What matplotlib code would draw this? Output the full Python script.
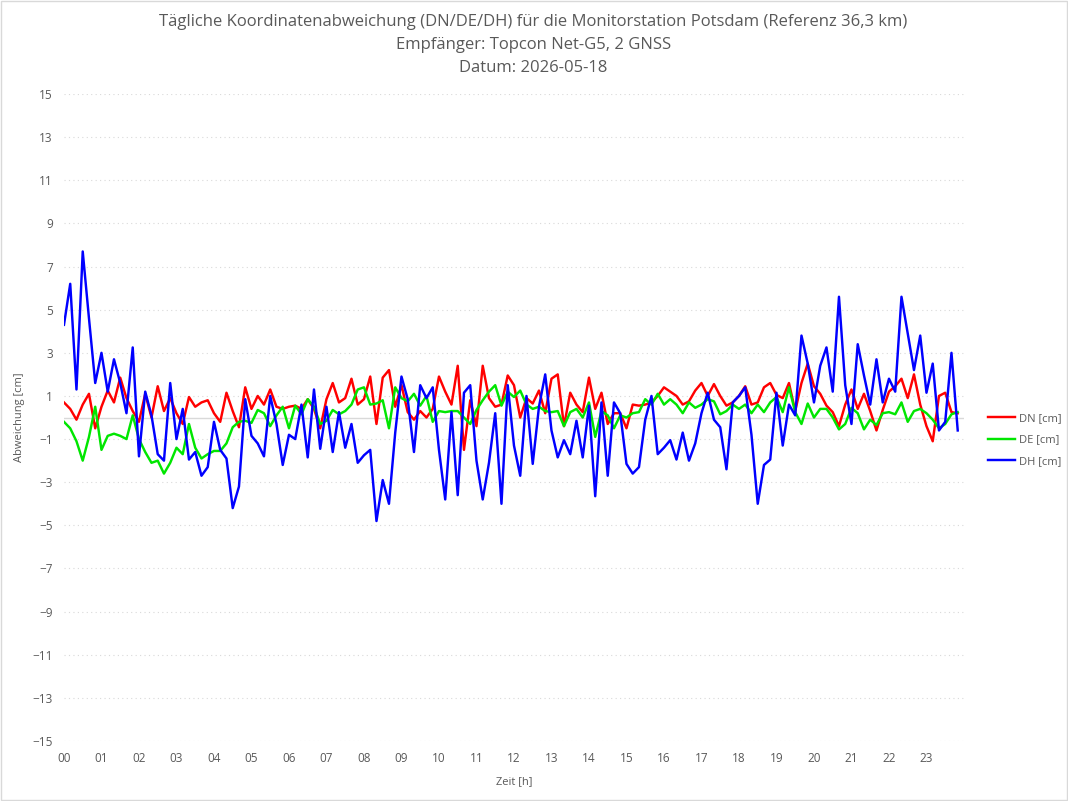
import numpy as np
import matplotlib.pyplot as plt
from matplotlib.patches import Rectangle

plt.rcParams['font.family'] = ['Open Sans', 'DejaVu Sans']

# Abweichungen in cm, alle 10 Minuten (00:00 .. 23:50)
dn = [0.7, 0.4, -0.1, 0.6, 1.1, -0.5, 0.5, 1.25, 0.7, 1.85, 0.9, 0.3, -0.2, 1.1, 0.0, 1.45, 0.3, 0.9,
      0.2, -0.3, 0.95, 0.5, 0.7, 0.8, 0.2, -0.2, 1.15, 0.3, -0.45, 1.4, 0.4, 1.0, 0.6, 1.3, 0.5, 0.4,
      0.5, 0.55, 0.4, 0.85, 0.4, -0.5, 0.85, 1.6, 0.7, 0.9, 1.8, 0.6, 0.85, 1.9, -0.3, 1.85, 2.2, 0.5,
      1.5, 0.25, -0.1, 0.3, 0.0, 0.4, 1.9, 1.2, 0.6, 2.4, -1.5, 0.8, -0.4, 2.4, 0.9, 0.5, 0.6, 1.95,
      1.5, 0.0, 0.9, 0.65, 1.25, 0.2, 1.8, 2.0, -0.4, 1.15, 0.6, 0.25, 1.85, 0.4, 1.15, -0.3, 0.2, 0.2,
      -0.5, 0.6, 0.55, 0.6, 0.7, 1.0, 1.4, 1.2, 1.0, 0.6, 0.75, 1.25, 1.6, 1.0, 1.55, 1.0, 0.55, 0.7,
      1.0, 1.45, 0.6, 0.7, 1.4, 1.6, 1.05, 0.9, 1.6, 0.3, 1.6, 2.5, 1.45, 1.1, 0.55, 0.25, -0.4, 0.6,
      1.3, 0.4, 1.1, 0.3, -0.6, 0.35, 1.2, 1.45, 1.8, 0.9, 2.0, 0.6, -0.4, -1.1, 1.0, 1.15, 0.25, 0.2]

de = [-0.2, -0.5, -1.1, -2.0, -0.9, 0.5, -1.5, -0.85, -0.75, -0.85, -1.0, 0.1, -1.0, -1.6, -2.1, -2.0, -2.6, -2.1,
      -1.4, -1.7, -0.3, -1.4, -1.9, -1.7, -1.55, -1.55, -1.2, -0.45, -0.2, -0.15, -0.25, 0.35, 0.2, -0.4, 0.1, 0.5,
      -0.5, 0.55, 0.15, 0.85, 0.5, -0.3, -0.15, 0.35, 0.15, 0.3, 0.6, 1.3, 1.4, 0.6, 0.65, 0.8, -0.5, 1.4,
      0.9, 0.75, 1.1, 0.55, 1.0, -0.2, 0.3, 0.25, 0.3, 0.3, 0.0, -0.3, 0.35, 0.8, 1.2, 1.5, 0.55, 1.2,
      0.95, 1.25, 0.6, 0.4, 0.5, 0.3, 0.25, 0.3, -0.4, 0.25, 0.4, 0.0, 0.7, -0.9, 0.3, 0.1, -0.5, 0.1,
      0.0, 0.2, 0.25, 0.85, 0.6, 1.1, 0.6, 0.85, 0.6, 0.2, 0.7, 0.45, 0.6, 0.85, 0.75, 0.15, 0.3, 0.6,
      0.4, 0.6, 0.2, 0.6, 0.25, 0.7, 0.95, 0.25, 1.4, 0.25, -0.3, 0.65, 0.0, 0.4, 0.4, 0.0, -0.55, -0.3,
      0.45, 0.2, -0.55, -0.1, -0.35, 0.2, 0.25, 0.15, 0.7, -0.2, 0.3, 0.4, 0.2, -0.1, -0.5, -0.3, 0.15, 0.25]

dh = [4.3, 6.2, 1.3, 7.7, 4.6, 1.6, 3.0, 1.2, 2.7, 1.6, 0.2, 3.25, -1.8, 1.2, 0.1, -1.7, -2.0, 1.6,
      -1.0, 0.4, -1.95, -1.6, -2.7, -2.3, -0.2, -1.5, -1.9, -4.2, -3.2, 0.85, -0.85, -1.2, -1.8, 1.0, -0.3, -2.2,
      -0.8, -1.0, 0.6, -1.85, 1.3, -1.45, 0.5, -1.6, 0.25, -1.4, -0.3, -2.1, -1.75, -1.5, -4.8, -2.9, -4.0, -0.7,
      1.9, 0.85, -1.6, 1.5, 0.9, 1.4, -1.5, -3.8, 0.25, -3.6, 1.15, 1.5, -2.0, -3.8, -2.1, 0.2, -4.0, 1.5,
      -1.3, -2.7, 1.0, -2.15, 0.5, 2.0, -0.6, -1.85, -1.05, -1.7, -0.15, -1.85, 0.55, -3.65, 0.7, -2.7, 0.7, 0.2,
      -2.15, -2.6, -2.3, -0.1, 1.0, -1.7, -1.4, -1.05, -1.95, -0.7, -2.0, -1.2, 0.2, 1.15, -0.1, -0.45, -2.4, 0.7,
      1.0, 1.4, -0.8, -4.0, -2.2, -1.95, 1.15, -1.3, 0.6, 0.1, 3.8, 2.5, 0.7, 2.4, 3.25, 1.2, 5.6, 1.5,
      -0.3, 3.4, 1.95, 0.6, 2.7, 0.7, 1.8, 1.2, 5.6, 3.9, 2.2, 3.8, 1.15, 2.5, -0.6, -0.2, 3.0, -0.6]

stunden = ['{:02d}'.format(h) for h in range(24)]
zeit = np.arange(len(dn)) / 6.0

grau = '#595959'

fig = plt.figure(figsize=(10.68, 8.01), dpi=100)
ax = fig.add_axes([0.0599, 0.0749, 0.8427, 0.8077])

ax.plot(zeit, dn, color='#ff0000', lw=1.75, label='DN [cm]')
ax.plot(zeit, de, color='#00e600', lw=1.75, label='DE [cm]')
ax.plot(zeit, dh, color='#0000ff', lw=1.75, label='DH [cm]')

ax.set_xlim(0, 24)
ax.set_ylim(-15, 15)
ax.set_yticks(range(-15, 16, 2))
ax.set_xticks(range(24))
ax.set_xticklabels(stunden)
ax.grid(axis='y', color='#d9d9d9', linestyle=(0, (1, 3)), linewidth=0.8)
ax.axhline(0, color='#d9d9d9', lw=1, zorder=0)
for s in ax.spines.values():
    s.set_visible(False)
ax.tick_params(length=0, colors=grau, labelsize=8.5, pad=8)

ax.set_ylabel('Abweichung [cm]', color=grau, fontsize=8)
ax.yaxis.set_label_coords(-0.043, 0.5)
ax.set_xlabel('Zeit [h]', color=grau, fontsize=8)
ax.xaxis.set_label_coords(0.5, -0.054)

fig.text(0.4994, 1 - 22 / 801, 'Tägliche Koordinatenabweichung (DN/DE/DH) für die Monitorstation Potsdam (Referenz 36,3 km)',
         ha='center', va='center', fontsize=12, color=grau)
fig.text(0.4994, 1 - 45 / 801, 'Empfänger: Topcon Net-G5, 2 GNSS', ha='center', va='center', fontsize=12, color=grau)
fig.text(0.4994, 1 - 68 / 801, 'Datum: 2026-05-18', ha='center', va='center', fontsize=12, color=grau)

leg = fig.legend(loc='center left', bbox_to_anchor=(978 / 1068, 1 - 440 / 801), frameon=False,
                 fontsize=8, handlelength=2.4, labelspacing=0.95, handletextpad=0.4)
for t in leg.get_texts():
    t.set_color(grau)

fig.patches.append(Rectangle((0.0005, 0.0008), 0.999, 0.9985, transform=fig.transFigure,
                             fill=False, edgecolor='#d9d9d9', lw=1))

fig.savefig('out.png', dpi=100)
